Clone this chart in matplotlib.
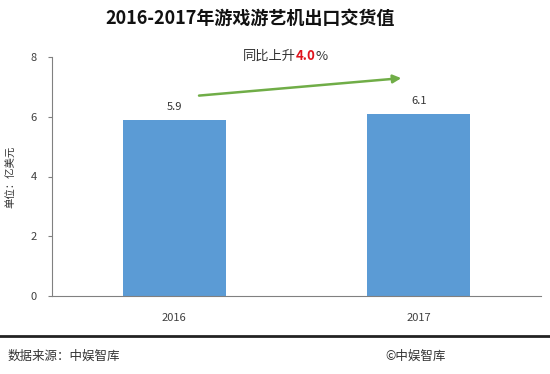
import matplotlib
matplotlib.use("Agg")
import matplotlib.pyplot as plt

plt.rcParams['font.family'] = ['Noto Sans CJK SC', 'DejaVu Sans']

# data
years = ['2016', '2017']
values = [5.9, 6.1]
growth = '4.0'

fig = plt.figure(figsize=(5.5, 3.74), dpi=100)
ax = fig.add_axes([52 / 550, 1 - 296 / 374, 489 / 550, 239 / 374])

x = list(range(len(years)))
ax.bar(x, values, width=0.42, color='#5B9BD5')
for xi, v in zip(x, values):
    ax.text(xi, v + 0.25, f'{v:.1f}', ha='center', va='bottom', fontsize=8, color='#333333')

ax.set_xlim(-0.5, 1.5)
ax.set_ylim(0, 8)
ax.set_yticks([0, 2, 4, 6, 8])
ax.set_xticks(x)
ax.set_xticklabels(years)
ax.tick_params(axis='both', labelsize=8, colors='#404040')
ax.tick_params(axis='x', length=0, pad=12)
ax.tick_params(axis='y', length=3, color='#808080', pad=8)
for s in ['top', 'right']:
    ax.spines[s].set_visible(False)
ax.spines['left'].set_color('#808080')
ax.spines['bottom'].set_color('#808080')

ax.set_ylabel('单位：亿美元', fontsize=7.5, color='#333333')
ax.yaxis.set_label_coords(-0.072, 0.5)

# growth arrow
ax.annotate('', xy=(0.94, 7.3), xytext=(0.09, 6.7),
            arrowprops=dict(arrowstyle='-|>', color='#70AD47', lw=1.8, mutation_scale=12))
t1 = fig.text(243 / 550, 1 - 56 / 374, '同比上升', ha='left', va='center', fontsize=9.5, color='#333333')
t2 = ax.annotate(growth, xy=(1, 0.5), xycoords=t1, ha='left', va='center', fontsize=9.5,
                 color='#E0141E', fontweight='bold')
ax.annotate('%', xy=(1, 0.5), xycoords=t2, ha='left', va='center', fontsize=9.5, color='#333333')

fig.text(250 / 550, 1 - 18 / 374, '2016-2017年游戏游艺机出口交货值', ha='center', va='center',
         fontsize=13, fontweight='bold', color='#111111')

# footer
fig.add_artist(plt.Line2D([0, 1], [1 - 336 / 374, 1 - 336 / 374], color='#222222', lw=2))
fig.text(8 / 550, 1 - 356 / 374, '数据来源：中娱智库', ha='left', va='center', fontsize=9, color='#333333')
fig.text(385 / 550, 1 - 356 / 374, '©中娱智库', ha='left', va='center', fontsize=9, color='#333333')

fig.savefig('out.png', dpi=100)
